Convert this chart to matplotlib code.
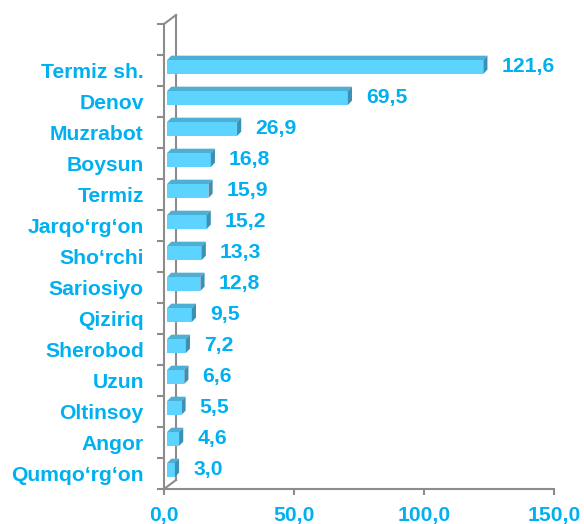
import matplotlib
matplotlib.use('Agg')
import matplotlib.pyplot as plt
from matplotlib.patches import Polygon

categories = ['Termiz sh.', 'Denov', 'Muzrabot', 'Boysun', 'Termiz', 'Jarqo‘rg‘on',
              'Sho‘rchi', 'Sariosiyo', 'Qiziriq', 'Sherobod', 'Uzun', 'Oltinsoy',
              'Angor', 'Qumqo‘rg‘on']
values = [121.6, 69.5, 26.9, 16.8, 15.9, 15.2, 13.3, 12.8, 9.5, 7.2, 6.6, 5.5, 4.6, 3.0]
xticks = [0, 50, 100, 150]
xticklabels = ['0,0', '50,0', '100,0', '150,0']

txt_col = '#00B0F0'
front_col = '#5CD4FF'
top_col = '#4DAFD3'
side_col = '#3C8FB5'
grid_col = '#8C8C8C'
fs = 15.2

plt.rcParams['font.family'] = ['Liberation Sans', 'DejaVu Sans']
plt.rcParams['font.weight'] = 'bold'

fig = plt.figure(figsize=(5.84, 5.24), dpi=100)
ax = fig.add_axes([164/584, 35/524, 390/584, 465/524])
ax.set_xlim(0, 150)
ax.set_ylim(-0.5, 14.5)

n = len(categories)
pos = [n - 1 - i for i in range(n)]

# 3d wall (back line + slants)
ox, oy = 12/390, 9/465
wall = dict(color=grid_col, lw=1.5, transform=ax.transAxes, clip_on=False, zorder=0.5)
ax.plot([ox, ox], [oy, 1 + oy], **wall)
ax.plot([0, ox], [1, 1 + oy], **wall)
ax.plot([0, ox], [0, oy], **wall)

left = 1.2
h = 0.45
dx, dy = 1.6, 0.14
for p, v in zip(pos, values):
    yb = p + 0.113 - h/2
    yt = yb + h
    ax.add_patch(Polygon([(left, yb), (left + v, yb), (left + v, yt), (left, yt)],
                         closed=True, fc=front_col, ec='none', zorder=3))
    ax.add_patch(Polygon([(left, yt), (left + v, yt), (left + v + dx, yt + dy), (left + dx, yt + dy)],
                         closed=True, fc=top_col, ec='none', zorder=3))
    ax.add_patch(Polygon([(left + v, yb), (left + v + dx, yb + dy), (left + v + dx, yt + dy), (left + v, yt)],
                         closed=True, fc=side_col, ec='none', zorder=3))
    ax.text(left + v + 7.0, p + 0.12, f'{v:.1f}'.replace('.', ','), color=txt_col,
            fontsize=fs, fontweight='bold', va='center', ha='left', zorder=4)

ax.set_yticks(pos)
ax.set_yticklabels(categories, fontsize=fs, fontweight='bold', color=txt_col)
ax.tick_params(axis='y', which='major', length=0, pad=14.5)
ax.set_yticks([b - 0.5 for b in range(n + 2)], minor=True)
ax.tick_params(axis='y', which='minor', length=5, width=1.5, color=grid_col, direction='out')

ax.set_xticks(xticks)
ax.set_xticklabels(xticklabels, fontsize=fs, fontweight='bold', color=txt_col)
ax.tick_params(axis='x', length=4.5, width=1.5, color=grid_col, pad=7.5)

for s in ['top', 'right']:
    ax.spines[s].set_visible(False)
for s in ['left', 'bottom']:
    ax.spines[s].set_color(grid_col)
    ax.spines[s].set_linewidth(1.5)
ax.patch.set_alpha(0)

fig.savefig('out.png', dpi=100)
